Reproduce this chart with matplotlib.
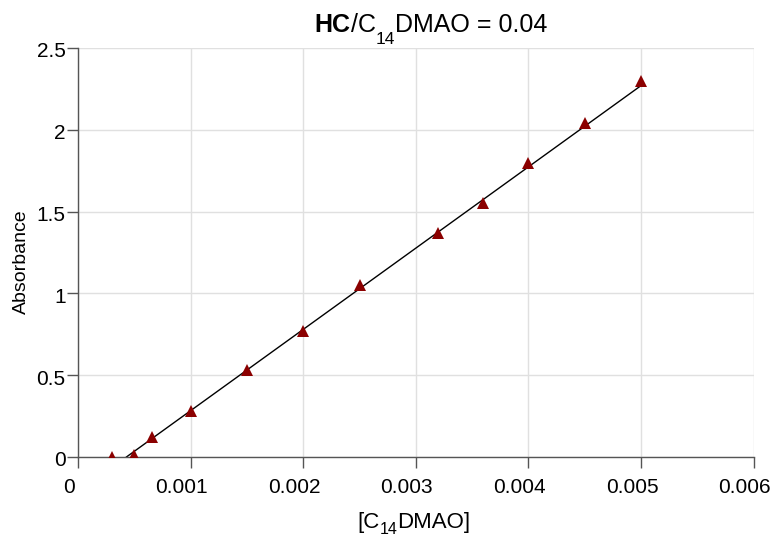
import numpy as np
import matplotlib.pyplot as plt
from matplotlib.transforms import ScaledTranslation

plt.rcParams['font.family'] = ['Liberation Sans', 'DejaVu Sans']

W, H = 779, 539

# measured points
conc = [0.0003, 0.0005, 0.00066, 0.001, 0.0015, 0.002, 0.0025,
        0.0032, 0.0036, 0.004, 0.0045, 0.005]
absorb = [0.0, 0.01, 0.12, 0.28, 0.53, 0.77, 1.05,
          1.37, 1.55, 1.80, 2.04, 2.30]

# fitted line end points
fit_x = [0.00043, 0.005]
fit_y = [0.0, 2.27]

xticks = [0, 0.001, 0.002, 0.003, 0.004, 0.005, 0.006]
xtick_labels = ['0', '0.001', '0.002', '0.003', '0.004', '0.005', '0.006']
yticks = [0, 0.5, 1, 1.5, 2, 2.5]
ytick_labels = ['0', '0.5', '1', '1.5', '2', '2.5']


def draw_runs(fig, xc, yb, runs):
    # runs: (text, size, weight, drop in px) ; xc, yb in pixels from top-left
    r = fig.canvas.get_renderer()
    texts = []
    total = 0
    for s, size, weight, drop in runs:
        t = fig.text(0, 0, s, fontsize=size, fontweight=weight,
                     ha='left', va='baseline')
        w = t.get_window_extent(renderer=r).width
        texts.append((t, w, drop))
        total += w
    x = xc - total / 2
    for t, w, drop in texts:
        t.set_position((x / W, (H - yb - drop) / H))
        x += w


fig = plt.figure(figsize=(W / 100, H / 100), dpi=100)
ax = fig.add_axes([78 / W, 82 / H, 675.6 / W, 409 / H])

ax.plot(fit_x, fit_y, color='black', lw=1.0, zorder=2)
ax.plot(conc, absorb, '^', color='#8b0000', markersize=9,
        markeredgewidth=0, zorder=3)

ax.set_xlim(0, 0.006)
ax.set_ylim(0, 2.5)
ax.set_xticks(xticks)
ax.set_xticklabels(xtick_labels)
ax.set_yticks(yticks)
ax.set_yticklabels(ytick_labels)
ax.grid(True, color='#e0e0e0', lw=1.0)
ax.set_axisbelow(True)

for s in ['top', 'right']:
    ax.spines[s].set_visible(False)
for s in ['left', 'bottom']:
    ax.spines[s].set_color('#555555')
    ax.spines[s].set_linewidth(1.0)
ax.tick_params(direction='out', length=8, width=1.0, color='#555555',
               labelsize=15)
ax.tick_params(axis='x', pad=7)
ax.tick_params(axis='y', pad=1)

# x tick labels sit a little left of their ticks in the original
shift = ScaledTranslation(-9 / 100, 0, fig.dpi_scale_trans)
for lab in ax.get_xticklabels():
    lab.set_transform(lab.get_transform() + shift)
shift_y = ScaledTranslation(0, -2 / 100, fig.dpi_scale_trans)
for lab in ax.get_yticklabels():
    lab.set_transform(lab.get_transform() + shift_y)

ax.set_ylabel('Absorbance', fontsize=14)
ax.yaxis.set_label_coords((30 - 78) / 675.6, (457 - 262) / 409)

draw_runs(fig, 431, 32, [('HC', 18, 'bold', 0), ('/C', 18, 'normal', 0),
                         ('14', 12.5, 'normal', 12),
                         ('DMAO = 0.04', 18, 'normal', 0)])
draw_runs(fig, 414, 528, [('[C', 16, 'normal', 0), ('14', 11.5, 'normal', 6),
                          ('DMAO]', 16, 'normal', 0)])

plt.savefig('out.png', dpi=100)
plt.close()
